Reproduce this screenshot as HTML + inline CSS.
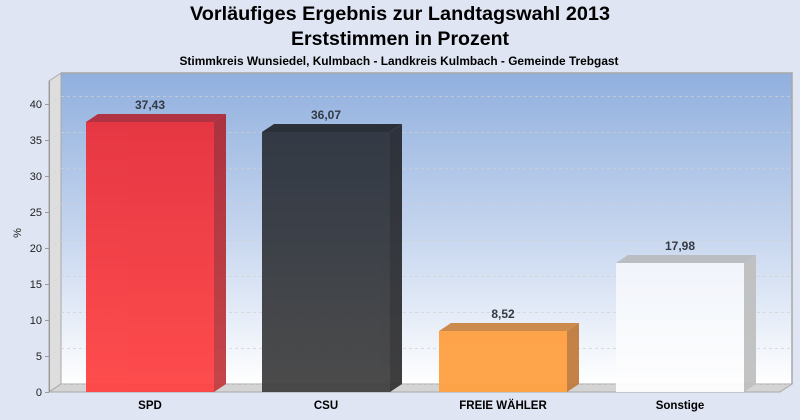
<!DOCTYPE html>
<html><head><meta charset="utf-8"><style>
html,body{margin:0;padding:0;background:#dfe5f3;}
svg{display:block;}
text{font-family:"Liberation Sans",Arial,sans-serif;}
</style></head><body>
<svg width="800" height="420" viewBox="0 0 800 420" xmlns="http://www.w3.org/2000/svg">
<defs>
<linearGradient id="bg" x1="0" y1="0" x2="0" y2="1">
<stop offset="0" stop-color="#91b0de"/>
<stop offset="0.5" stop-color="#c4d4ee"/>
<stop offset="1" stop-color="#ffffff"/>
</linearGradient>
<linearGradient id="spd" x1="0" y1="0" x2="0" y2="1">
<stop offset="0" stop-color="#ea2f3a"/><stop offset="1" stop-color="#ff4242"/>
</linearGradient>
<linearGradient id="spds" x1="0" y1="0" x2="0" y2="1">
<stop offset="0" stop-color="#ac2a36"/><stop offset="1" stop-color="#c23a3e"/>
</linearGradient>
<linearGradient id="csu" x1="0" y1="0" x2="0" y2="1">
<stop offset="0" stop-color="#2c323c"/><stop offset="1" stop-color="#404040"/>
</linearGradient>
<linearGradient id="csus" x1="0" y1="0" x2="0" y2="1">
<stop offset="0" stop-color="#262a32"/><stop offset="1" stop-color="#333"/>
</linearGradient>
<linearGradient id="fw" x1="0" y1="0" x2="0" y2="1">
<stop offset="0" stop-color="#ff9f40"/><stop offset="1" stop-color="#ffa040"/>
</linearGradient>
<linearGradient id="so" x1="0" y1="0" x2="0" y2="1">
<stop offset="0" stop-color="#f3f6fc"/><stop offset="1" stop-color="#ffffff"/>
</linearGradient>
</defs>
<rect width="800" height="420" fill="#dfe5f3"/>
<text x="400" y="20" text-anchor="middle" font-size="19" font-weight="bold" textLength="420" lengthAdjust="spacingAndGlyphs">Vorläufiges Ergebnis zur Landtagswahl 2013</text>
<text x="400" y="45" text-anchor="middle" font-size="19" font-weight="bold" textLength="218" lengthAdjust="spacingAndGlyphs">Erststimmen in Prozent</text>
<text x="399" y="65" text-anchor="middle" font-size="11.5" font-weight="bold" textLength="439" lengthAdjust="spacingAndGlyphs">Stimmkreis Wunsiedel, Kulmbach - Landkreis Kulmbach - Gemeinde Trebgast</text>
<rect x="61" y="73" width="731" height="311" fill="url(#bg)"/>
<polyline points="61,73 792,73 792,384" fill="none" stroke="#a8a8a8" stroke-width="1.5"/>
<polygon points="49,81 61,73 61,384 49,392" fill="#dedede" stroke="#a8a8a8" stroke-width="1"/>
<polygon points="49,392 61,384 792,384 780,392" fill="#d4d4d4" stroke="#a8a8a8" stroke-width="1"/>
<g stroke="#d0d0d0" stroke-width="1" stroke-dasharray="3,3" fill="none" opacity="0.7">
<path d="M61,384.5H792M61,348.5H792M61,312.5H792M61,276.5H792M61,240.5H792M61,204.5H792M61,168.5H792M61,132.5H792M61,96.5H792"/>
<path d="M49,356L61,348M49,320L61,312M49,284L61,276M49,248L61,240M49,212L61,204M49,176L61,168M49,140L61,132M49,104L61,96"/>
</g>
<g stroke="#999" stroke-width="1">
<line x1="49.5" y1="81" x2="49.5" y2="392"/>
<path d="M45,392.5H49M45,356.5H49M45,320.5H49M45,284.5H49M45,248.5H49M45,212.5H49M45,176.5H49M45,140.5H49M45,104.5H49"/>
</g>
<g font-size="11" fill="#222" text-anchor="end">
<text x="42" y="396">0</text>
<text x="42" y="360">5</text>
<text x="42" y="324">10</text>
<text x="42" y="288">15</text>
<text x="42" y="252">20</text>
<text x="42" y="216">25</text>
<text x="42" y="180">30</text>
<text x="42" y="144">35</text>
<text x="42" y="108">40</text>
</g>
<text x="21" y="233" font-size="11" fill="#222" text-anchor="middle" transform="rotate(-90 21 233)">%</text>
<g opacity="0.94">
<rect x="86" y="122" width="128" height="270" fill="url(#spd)"/>
<polygon points="86,122 214,122 226,114 98,114" fill="#b32b3a"/>
<polygon points="214,122 226,114 226,384 214,392" fill="url(#spds)"/>
<rect x="262" y="132" width="128" height="260" fill="url(#csu)"/>
<polygon points="262,132 390,132 402,124 274,124" fill="#23272e"/>
<polygon points="390,132 402,124 402,384 390,392" fill="url(#csus)"/>
<rect x="439" y="331" width="128" height="61" fill="url(#fw)"/>
<polygon points="439,331 567,331 579,323 451,323" fill="#c98542"/>
<polygon points="567,331 579,323 579,384 567,392" fill="#c27b3c"/>
<rect x="616" y="263" width="128" height="129" fill="url(#so)"/>
<polygon points="616,263 744,263 756,255 628,255" fill="#b9bcc0"/>
<polygon points="744,263 756,255 756,384 744,392" fill="#c0c0c0"/>
</g>
<g font-size="12" font-weight="bold" fill="#333a44" text-anchor="middle">
<text x="150" y="109">37,43</text>
<text x="326" y="119">36,07</text>
<text x="503" y="318">8,52</text>
<text x="680" y="250">17,98</text>
</g>
<g font-size="11.5" font-weight="bold" fill="#000" text-anchor="middle">
<text x="150" y="409">SPD</text>
<text x="326" y="409">CSU</text>
<text x="503" y="409">FREIE WÄHLER</text>
<text x="680" y="409">Sonstige</text>
</g>
</svg>
</body></html>
